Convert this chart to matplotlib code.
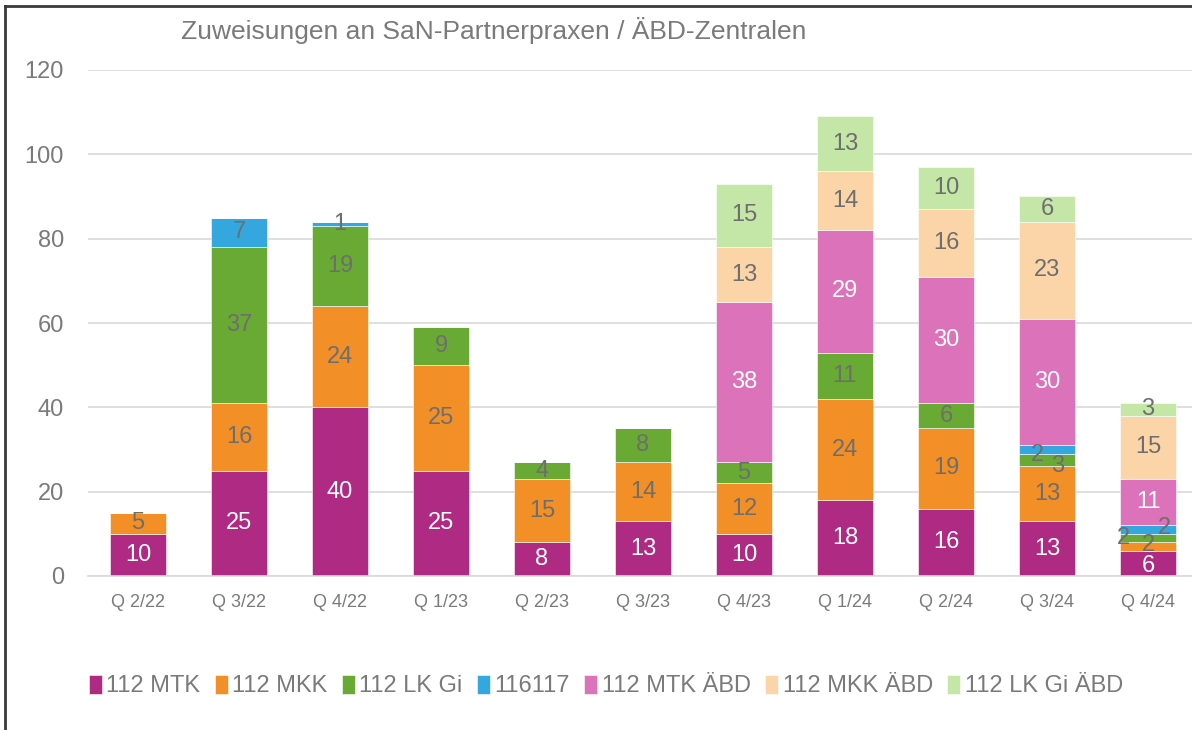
import matplotlib.pyplot as plt
import numpy as np
from matplotlib.lines import Line2D

plt.rcParams['font.family'] = ['Liberation Sans', 'DejaVu Sans']

quarters = ['Q 2/22', 'Q 3/22', 'Q 4/22', 'Q 1/23', 'Q 2/23', 'Q 3/23',
            'Q 4/23', 'Q 1/24', 'Q 2/24', 'Q 3/24', 'Q 4/24']
series_names = ['112 MTK', '112 MKK', '112 LK Gi', '116117',
                '112 MTK ÄBD', '112 MKK ÄBD', '112 LK Gi ÄBD']
mtk = [10, 25, 40, 25, 8, 13, 10, 18, 16, 13, 6]
mkk = [5, 16, 24, 25, 15, 14, 12, 24, 19, 13, 2]
lkgi = [0, 37, 19, 9, 4, 8, 5, 11, 6, 3, 2]
n116117 = [0, 7, 1, 0, 0, 0, 0, 0, 0, 2, 2]
mtk_abd = [0, 0, 0, 0, 0, 0, 38, 29, 30, 30, 11]
mkk_abd = [0, 0, 0, 0, 0, 0, 13, 14, 16, 23, 15]
lkgi_abd = [0, 0, 0, 0, 0, 0, 15, 13, 10, 6, 3]

values = [mtk, mkk, lkgi, n116117, mtk_abd, mkk_abd, lkgi_abd]
colors = ['#AE2A83', '#F28F26', '#69AA34', '#35A7DF', '#DB72BA', '#FBD4A7', '#C4E6A6']
grey = '#6E6E6E'
label_colors = ['white', grey, grey, grey, 'white', grey, grey]

# manual nudges for crowded small labels (series index, bar index) -> (dx, dy) in points
nudges = {(2, 9): (8, -4), (3, 9): (-7, -4),
          (2, 10): (-18, 0), (3, 10): (12, 1), (1, 10): (0, 1), (0, 10): (0, -2)}

fig = plt.figure(figsize=(11.92, 7.30), dpi=100)
ax = fig.add_axes([87.5 / 1192, 1 - 576 / 730, 1111 / 1192, 506 / 730])

x = np.arange(len(quarters))
bottom = np.zeros(len(quarters))
handles = []
for i, (name, vals) in enumerate(zip(series_names, values)):
    vals = np.array(vals, dtype=float)
    bars = ax.bar(x, vals, width=0.55, bottom=bottom, color=colors[i],
                  edgecolor='white', linewidth=0.4, label=name, zorder=2)
    handles.append(bars)
    for j, v in enumerate(vals):
        if v <= 0:
            continue
        dx, dy = nudges.get((i, j), (0, 0))
        ax.annotate(f'{int(v)}', (x[j], bottom[j] + v / 2), xytext=(dx, dy),
                    textcoords='offset points', ha='center', va='center',
                    fontsize=17, color=label_colors[i], zorder=3)
    bottom += vals

ax.set_xlim(-0.5, len(quarters) - 0.5)
ax.set_ylim(0, 120)
ax.set_yticks(range(0, 121, 20))
ax.set_xticks(x)
ax.set_xticklabels(quarters)
ax.yaxis.grid(True, color='#D9D9D9', linewidth=1.2, zorder=0)
ax.set_axisbelow(True)
for s in ['top', 'right', 'left']:
    ax.spines[s].set_visible(False)
ax.spines['bottom'].set_color('#D9D9D9')
ax.spines['bottom'].set_linewidth(1.2)
ax.tick_params(axis='y', length=0, pad=17, labelsize=17, labelcolor='#7A7A7A')
ax.tick_params(axis='x', length=0, pad=13, labelsize=13, labelcolor='#7A7A7A')

fig.text(494 / 1192, 1 - 30 / 730, 'Zuweisungen an SaN-Partnerpraxen / ÄBD-Zentralen',
         ha='center', va='center', fontsize=19, color='#7A7A7A')

fig.legend(handles=handles, labels=series_names, loc='center', ncol=7,
           bbox_to_anchor=(606 / 1192, 1 - 686 / 730), frameon=False,
           fontsize=17, labelcolor='#7A7A7A', handlelength=0.55, handleheight=0.9,
           handletextpad=0.2, columnspacing=0.6)

# outer frame (left and top edges visible)
fig.add_artist(Line2D([5 / 1192, 5 / 1192], [0, 1 - 6 / 730], color='#3A3A3A', lw=2))
fig.add_artist(Line2D([5 / 1192, 1], [1 - 6 / 730, 1 - 6 / 730], color='#3A3A3A', lw=2))

fig.savefig('out.png', dpi=100)
